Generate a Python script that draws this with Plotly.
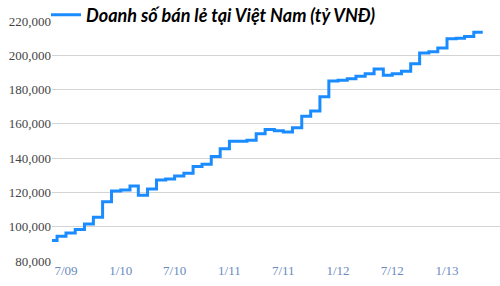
import plotly.graph_objects as go

# monthly retail sales (billion VND), value applies from the first of each month
dates = ["2009-05-01", "2009-06-01", "2009-07-01", "2009-08-01", "2009-09-01", "2009-10-01",
         "2009-11-01", "2009-12-01", "2010-01-01", "2010-02-01", "2010-03-01", "2010-04-01",
         "2010-05-01", "2010-06-01", "2010-07-01", "2010-08-01", "2010-09-01", "2010-10-01",
         "2010-11-01", "2010-12-01", "2011-01-01", "2011-02-01", "2011-03-01", "2011-04-01",
         "2011-05-01", "2011-06-01", "2011-07-01", "2011-08-01", "2011-09-01", "2011-10-01",
         "2011-11-01", "2011-12-01", "2012-01-01", "2012-02-01", "2012-03-01", "2012-04-01",
         "2012-05-01", "2012-06-01", "2012-07-01", "2012-08-01", "2012-09-01", "2012-10-01",
         "2012-11-01", "2012-12-01", "2013-01-01", "2013-02-01", "2013-03-01", "2013-04-01",
         "2013-05-01"]
sales = [92000, 94500, 96300, 98400, 101600, 105500,
         114500, 120800, 121400, 123700, 118400, 122000,
         127300, 127900, 129600, 131200, 135100, 136500,
         141000, 145500, 149800, 149900, 150400, 154200,
         156700, 156000, 155200, 157700, 164500, 167500,
         175800, 185000, 185500, 186300, 187800, 189300,
         192000, 188400, 189300, 190700, 195100, 201300,
         202000, 204200, 209700, 210000, 211000, 213400,
         213400]

series_name = "Doanh số bán lẻ tại Việt Nam (tỷ VNĐ)"
tick_dates = ["2009-07-01", "2010-01-01", "2010-07-01", "2011-01-01",
              "2011-07-01", "2012-01-01", "2012-07-01", "2013-01-01"]
tick_labels = ["7/09", "1/10", "7/10", "1/11", "7/11", "1/12", "7/12", "1/13"]

fig = go.Figure()
fig.add_trace(go.Scatter(
    x=dates, y=sales, mode="lines", line_shape="hv",
    line=dict(color="#1a8cff", width=3),
    name="<b><i>" + series_name + "</i></b>",
    showlegend=True,
))

fig.update_layout(
    width=500, height=286,
    margin=dict(l=52, r=0, t=21, b=25, autoexpand=False),
    plot_bgcolor="white", paper_bgcolor="white",
    showlegend=True,
    legend=dict(
        x=46 / 500, y=1 - 15 / 286, xref="container", yref="container",
        xanchor="left", yanchor="middle",
        bgcolor="rgba(255,255,255,0)",
        font=dict(family="Lato, 'Open Sans', sans-serif", size=18, color="#000000"),
        itemwidth=30, tracegroupgap=0,
    ),
    xaxis=dict(
        range=["2009-05-15", "2013-06-28"],
        tickvals=tick_dates, ticktext=tick_labels, tickangle=0,
        showgrid=False, zeroline=False, showline=False, ticks="",
        tickfont=dict(family="Liberation Serif, serif", size=13, color="#6a8ac0"),
    ),
    yaxis=dict(
        range=[80000, 220000], dtick=20000, tickformat=",",
        showgrid=True, gridcolor="#d4d4d4", gridwidth=1,
        zeroline=False, showline=False, ticks="",
        tickfont=dict(family="Liberation Serif, serif", size=13, color="#444444"),
    ),
    shapes=[dict(type="rect", xref="paper", yref="paper", x0=0.0625, x1=1.0,
                 y0=0.992, y1=1.01, fillcolor="white", line=dict(width=0), layer="above")],
)

fig.write_html("out.html")
